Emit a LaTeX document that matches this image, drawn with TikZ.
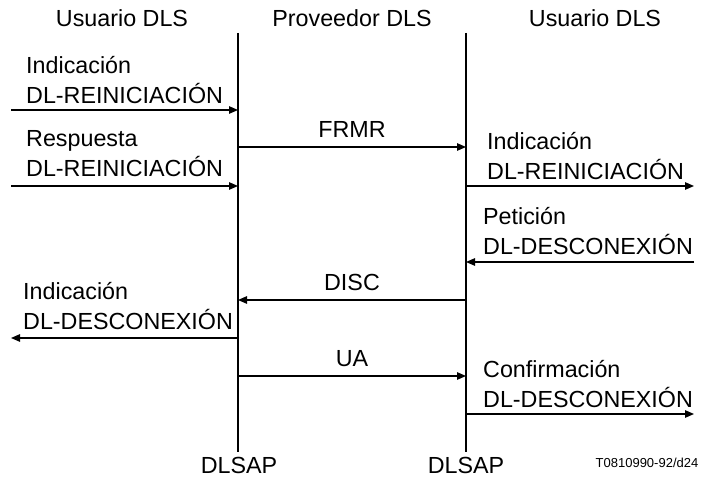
\documentclass[tikz,border=0pt]{standalone}
\usepackage{fontspec}
\setmainfont{Liberation Sans}
\usetikzlibrary{arrows.meta}
\begin{document}
\begin{tikzpicture}[x=1pt,y=-1pt,
  lifeline/.style={line width=1.3pt},
  msg/.style={line width=1.3pt,-{Triangle[length=9pt,width=7.5pt]}},
  lbl/.style={inner sep=0pt,font=\fontsize{23.3}{30}\selectfont,align=left},
  hdr/.style={inner sep=0pt,font=\fontsize{23.3}{28}\selectfont,anchor=base},
  tag/.style={inner sep=0pt,font=\fontsize{13}{15}\selectfont,anchor=base}]
\useasboundingbox (0,0) rectangle (716,486);
% lifelines
\coordinate (Atop) at (238,33);
\coordinate (Abot) at (238,452);
\coordinate (Btop) at (466,33);
\coordinate (Bbot) at (466,452);
\draw[lifeline] (Atop) -- (Abot);
\draw[lifeline] (Btop) -- (Bbot);
% headers
\node[hdr] (h1) at (122,27) {Usuario DLS};
\node[hdr] (h2) at (352,27) {Proveedor DLS};
\node[hdr] (h3) at (595,27) {Usuario DLS};
\node[hdr] (s1) at (239,474) {DLSAP};
\node[hdr] (s2) at (466,474) {DLSAP};
\node[tag] (ref) at (647,468) {T0810990-92/d24};
% points
\coordinate (e1) at (11,110);  \coordinate (a1) at (238,110);
\coordinate (e2) at (11,186);  \coordinate (a2) at (238,186);
\coordinate (a3) at (238,147); \coordinate (b3) at (466,147);
\coordinate (b4) at (466,186); \coordinate (f4) at (694,186);
\coordinate (f5) at (694,262); \coordinate (b5) at (466,262);
\coordinate (b6) at (466,300); \coordinate (a6) at (238,300);
\coordinate (a7) at (238,338); \coordinate (e7) at (11,338);
\coordinate (a8) at (238,376); \coordinate (b8) at (466,376);
\coordinate (b9) at (466,414); \coordinate (f9) at (694,414);
% messages
\draw[msg] (e1) -- (a1);
\draw[msg] (e2) -- (a2);
\draw[msg] (a3) -- (b3);
\draw[msg] (b4) -- (f4);
\draw[msg] (f5) -- (b5);
\draw[msg] (b6) -- (a6);
\draw[msg] (a7) -- (e7);
\draw[msg] (a8) -- (b8);
\draw[msg] (b9) -- (f9);
% labels
\node[lbl,anchor=south west] (l1) at (26,103.5) {Indicación\\DL-REINICIACIÓN};
\node[lbl,anchor=south west] (l2) at (26,177) {Respuesta\\DL-REINICIACIÓN};
\node[hdr] (l3) at (352,138) {FRMR};
\node[lbl,anchor=south west] (l4) at (487,180) {Indicación\\DL-REINICIACIÓN};
\node[lbl,anchor=south west] (l5) at (483,255) {Petición\\DL-DESCONEXIÓN};
\node[hdr] (l6) at (352,291) {DISC};
\node[lbl,anchor=south west] (l7) at (23,330) {Indicación\\DL-DESCONEXIÓN};
\node[hdr] (l8) at (352,367) {UA};
\node[lbl,anchor=south west] (l9) at (483,408) {Confirmación\\DL-DESCONEXIÓN};
\end{tikzpicture}
\end{document}
